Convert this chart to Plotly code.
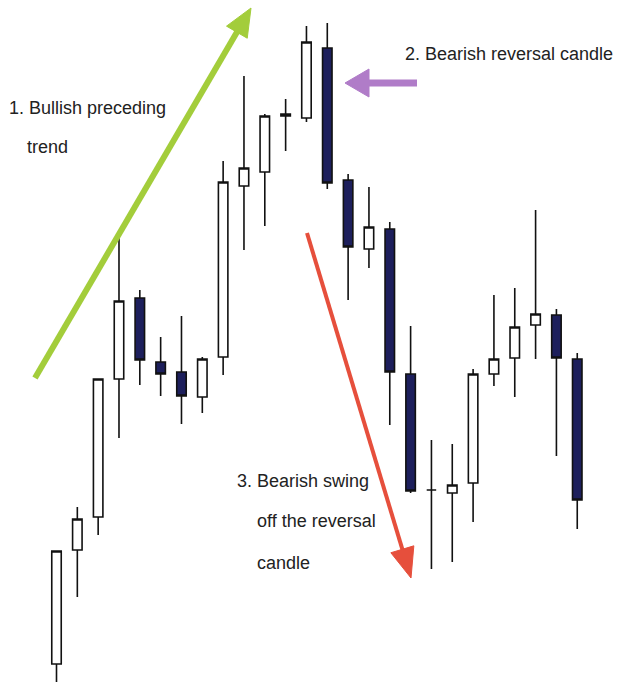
import plotly.graph_objects as go

W, H = 620, 686

# candle data (arbitrary price units)
idx = list(range(1, 27))
opens = [36, 150, 183, 321, 402, 338, 328, 303, 343, 514, 528, 584, 582,
         652, 520, 451, 471, 326, 210, 207, 217, 326, 342, 375, 385, 341]
highs = [149, 193, 321, 464, 410, 363, 384, 343, 539, 624, 586, 601, 674,
         677, 526, 513, 478, 374, 260, 256, 331, 405, 412, 490, 391, 347]
lows = [18, 103, 165, 262, 315, 304, 276, 287, 325, 450, 474, 549, 578,
        511, 400, 432, 275, 207, 131, 138, 178, 314, 303, 341, 244, 171]
closes = [149, 181, 321, 399, 340, 326, 304, 341, 518, 532, 584, 586, 658,
          517, 453, 473, 328, 209, 210, 215, 326, 341, 373, 386, 342, 200]

labels = ['1. Bullish preceding', 'trend', '2. Bearish reversal candle',
          '3. Bearish swing', 'off the reversal', 'candle']

NAVY = '#1d1f5c'
font = dict(family='Liberation Sans, Arial, sans-serif', size=18, color='#222222')


def px(x, y):
    return x / W, 1 - y / H


def arrow(fig, tail, tip, color, width, head_len, head_w):
    dx, dy = tip[0] - tail[0], tip[1] - tail[1]
    n = (dx ** 2 + dy ** 2) ** 0.5
    ux, uy = dx / n, dy / n
    bx, by = tip[0] - ux * head_len, tip[1] - uy * head_len
    x0, y0 = px(*tail)
    x1, y1 = px(bx + ux * 2, by + uy * 2)
    fig.add_shape(type='line', xref='paper', yref='paper', x0=x0, y0=y0, x1=x1, y1=y1,
                  line=dict(color=color, width=width))
    pts = [tip, (bx - uy * head_w / 2, by + ux * head_w / 2),
           (bx + uy * head_w / 2, by - ux * head_w / 2)]
    pts = [px(*p) for p in pts]
    path = 'M {} {} L {} {} L {} {} Z'.format(*[c for p in pts for c in p])
    fig.add_shape(type='path', xref='paper', yref='paper', path=path,
                  fillcolor=color, line=dict(color=color, width=1))


fig = go.Figure(go.Candlestick(
    x=idx, open=opens, high=highs, low=lows, close=closes,
    increasing=dict(fillcolor='white', line=dict(color='#111111', width=1.6)),
    decreasing=dict(fillcolor=NAVY, line=dict(color='#111111', width=1.6)),
    whiskerwidth=0,
    hoverinfo='skip',
))

arrow(fig, (35, 378), (251, 8), '#a3cd3b', 6, 28, 24)
arrow(fig, (417, 83), (345, 83), '#b07cc8', 7, 24, 28)
arrow(fig, (307, 233), (411, 578), '#e64f3c', 4, 30, 24)

# text lines: (left px, middle px)
spots = [(7, 108), (25, 147), (403, 54), (235, 481), (255, 521), (255, 563)]
for t, (x, y) in zip(labels, spots):
    xp, yp = px(x, y)
    fig.add_annotation(text=t, x=xp, y=yp, xref='paper', yref='paper',
                       xanchor='left', yanchor='middle', showarrow=False,
                       font=font)

spacing = 20.83
x_lo = 1 - 56.5 / spacing
fig.update_layout(
    width=W, height=H,
    margin=dict(l=0, r=0, t=0, b=0),
    paper_bgcolor='white', plot_bgcolor='white',
    showlegend=False,
    boxgap=0.35,
    xaxis=dict(range=[x_lo, x_lo + W / spacing], visible=False,
               rangeslider=dict(visible=False), showgrid=False),
    yaxis=dict(range=[700 - H, 700], visible=False, showgrid=False),
)

fig.write_html('out.html', config={'displayModeBar': False},
               post_script="document.body.style.margin='0';")
